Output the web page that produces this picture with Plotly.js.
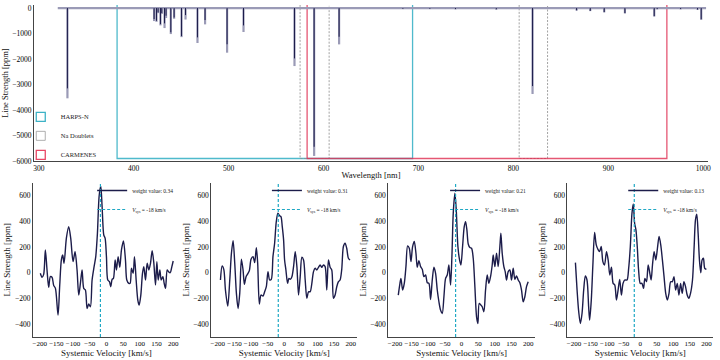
<!DOCTYPE html>
<html>
<head>
<meta charset="utf-8">
<script src="https://cdn.plot.ly/plotly-3.0.1.min.js"></script>
<style>
  html, body { margin: 0; padding: 0; background: white; }
  #chart { width: 720px; height: 360px; }
</style>
</head>
<body>
<div id="chart"></div>
<script>
// Espectro de lineas (panel superior)
const lineWavelength = [330.2, 421.5, 424.0, 425.7, 428.2, 429.6, 432.5, 434.1, 439.1, 442.6, 450.4, 454.6,
  467.2, 475.2, 498.4, 515.7, 569.4, 590.1, 616.4, 683.6, 712, 739, 782, 820.2, 866.6, 881, 895.7,
  917.5, 948.4, 951.5, 976.2, 994, 997.9];
const lineDepthTotal = [3540, 510, 540, 200, 680, 230, 785, 390, 1020, 420, 1140, 450,
  1370, 640, 1750, 940, 2275, 5800, 1425, 40, 40, 50, 60, 3370, 100, 120, 170,
  210, 330, 50, 50, 70, 460];
const lineDepthCore = [3150, 430, 500, 170, 630, 200, 600, 300, 950, 370, 1100, 275,
  1150, 470, 1420, 680, 1975, 5440, 1125, 30, 30, 40, 50, 3060, 90, 110, 160,
  200, 320, 40, 40, 60, 440];
const spectrumRange = [320, 1003];

const harpsRange = [382.5, 693.8];
const carmenesRange = [582.7, 961.7];
const naRanges = [[575.3, 605.9], [806.1, 836.0]];
const boxBottom = -5900;
const boxTop = 400;

// CCF (paneles inferiores)
const weights = ["0.34", "0.31", "0.21", "0.13"];
const vsys = -18;
const ccfRange = [-500, 700];

const vel1 = [-198, -193, -188, -183, -178, -173, -168, -163, -158, -153, -145, -140, -135, -131, -127,
  -120, -113, -107, -100, -94, -88, -83, -78, -73, -68, -63, -58, -53, -48, -43, -37, -32, -27, -22,
  -17, -13, -8, -4, 0, 4, 9, 13, 17, 21, 26, 30, 35, 40, 45, 51, 57, 61, 67, 71, 75, 80, 84, 89, 94,
  98, 103, 108, 112, 117, 122, 127, 132, 137, 142, 147, 151, 155, 160, 164, 169, 173, 177, 182, 186,
  191, 196, 200];
const val1 = [-5, -36, -13, 177, 21, -114, -31, -35, -100, -120, -330, -100, 100, 138, 73,
  268, 358, 268, 86, 164, 21, -174, -83, 21, -122, -135, -278, -244, -265, -57, 47, 125, 306, 592,
  675, 514, 293, 268, 125, -57, -70, -109, -52, -44, 99, 21, 125, 42, 177, 247, 99, -57, -83, -83,
  34, -5, 125, -57, -213, -252, -174, -5, 47, -57, 73, 21, 73, 171, 73, -96, 86, -57, 21, -57, -31,
  -83, -122, 21, 8, 0, 47, 91];

const vel2 = [-192, -187, -182, -177, -170, -164, -159, -154, -149, -144, -139, -134, -129, -124, -120,
  -115, -110, -105, -100, -94, -89, -84, -80, -75, -70, -64, -59, -54, -49, -44, -39, -34, -29, -24,
  -19, -14, -10, -6, -2, 1, 5, 10, 14, 18, 23, 28, 33, 38, 43, 48, 53, 58, 63, 68, 73, 78, 83, 88,
  93, 98, 103, 108, 113, 118, 123, 128, 133, 138, 143, 148, 153, 158, 163, 168, 173, 178, 183, 188,
  193, 198];
const val2 = [-57, 52, 26, -135, -260, -57, 151, 249, 73, -161, -278, -161, 104, 21, -91,
  -31, -10, 16, 104, 125, 78, 195, 73, -244, -174, -182, -148, -109, 8, -57, -52, 125, 229, 397,
  462, 442, 436, 358, 255, 99, 21, -83, -44, -52, -31, 47, 164, 47, -174, -31, 120, 99, -57, -200,
  -148, -148, -83, 8, 34, 21, 42, 60, 42, 60, 47, -135, 99, 42, 21, -200, -174, -109, -70, -57, 26,
  203, 229, 190, 112, 99];

const vel3 = [-190, -185, -182, -177, -172, -167, -162, -157, -152, -147, -142, -137, -133, -128, -123,
  -118, -113, -108, -103, -98, -93, -88, -83, -78, -73, -68, -63, -58, -53, -48, -43, -38, -33, -29,
  -25, -20, -16, -11, -6, -2, 3, 8, 12, 16, 20, 25, 30, 35, 40, 45, 49, 53, 58, 62, 67, 72, 77, 82,
  87, 92, 95, 100, 105, 110, 115, 118, 122, 127, 131, 135, 140, 145, 150, 155, 160, 165, 170, 175,
  180, 185, 190, 195, 200];
const val3 = [-174, -83, -44, -135, -83, 47, 208, 190, 86, 203, 242, 151, 42, 94, 47,
  26, -31, -18, -78, -83, -208, -57, 42, -5, -135, -226, -291, -317, -187, -44, -18, 60, -96, 125,
  462, 618, 488, 203, 99, 60, 203, 358, 397, 332, 223, 195, 190, 112, -109, -343, -395, -239, -252,
  -265, -304, -135, -18, -83, -31, 60, 138, 47, 151, 47, 203, 306, 151, 47, 8, -57, 8, 21, -57, 34,
  -52, -26, -57, -78, -135, -226, -187, -109, -70];

const vel4 = [-196, -191, -186, -181, -176, -171, -166, -161, -156, -153, -148, -143, -138, -133, -128,
  -123, -118, -113, -108, -102, -97, -92, -87, -82, -77, -72, -67, -62, -57, -52, -47, -40, -35, -30,
  -25, -21, -17, -13, -9, -5, 0, 5, 10, 14, 19, 24, 29, 33, 37, 42, 47, 52, 57, 62, 67, 72, 77, 82,
  87, 92, 97, 102, 107, 112, 117, 122, 127, 132, 137, 142, 147, 152, 158, 163, 167, 171, 175, 179,
  183, 187, 191, 195, 200];
const val4 = [78, -135, -304, -395, -317, -135, -26, -57, -265, -369, -213, 73, 312, 216, 182,
  164, 203, 86, 60, 164, 99, -18, 42, -83, -96, -213, -135, -52, -174, -83, -57, -57, 34, 203, 462,
  535, 384, 332, 203, 21, -83, -83, -122, -44, -70, 60, -5, -57, 60, 164, 99, 190, 281, 216, 99,
  -31, -161, -213, -161, -70, -70, -31, -135, -83, -174, -83, -161, -70, -109, -174, -200, -161, -57,
  203, 410, 455, 306, 99, 0, 99, 112, 34, 26];

const ccfVel = [vel1, vel2, vel3, vel4];
const ccfVal = [val1, val2, val3, val4];

const NAVY = "#1c1c4a";
const CYAN = "#1fa8c4";
const FONT = "Liberation Serif, DejaVu Serif, serif";

function spectrumSegments(depths, withBaseline) {
  const x = withBaseline ? [spectrumRange[0], spectrumRange[1], null] : [];
  const y = withBaseline ? [0, 0, null] : [];
  lineWavelength.forEach((wl, i) => {
    x.push(wl, wl, null);
    y.push(0, -depths[i], null);
  });
  return { x, y };
}

function boxPath(ranges) {
  const x = [];
  const y = [];
  ranges.forEach(([a, b]) => {
    x.push(a, a, b, b, null);
    y.push(boxTop, boxBottom, boxBottom, boxTop, null);
  });
  return { x, y };
}

const grayLines = spectrumSegments(lineDepthTotal, true);
const navyLines = spectrumSegments(lineDepthCore, false);
const harpsBox = boxPath([harpsRange]);
const naBox = boxPath(naRanges);
const carmBox = boxPath([carmenesRange]);

const data = [
  { x: harpsBox.x, y: harpsBox.y, mode: "lines", line: { color: "rgba(60,178,198,0.9)", width: 1.3 },
    showlegend: false, hoverinfo: "skip" },
  { x: naBox.x, y: naBox.y, mode: "lines", line: { color: "#8c8c8c", width: 0.8, dash: "2px,1.5px" },
    showlegend: false, hoverinfo: "skip" },
  { x: carmBox.x, y: carmBox.y, mode: "lines", line: { color: "rgba(222,45,80,0.8)", width: 1.3 },
    showlegend: false, hoverinfo: "skip" },
  { x: grayLines.x, y: grayLines.y, mode: "lines", line: { color: "#9a9ab6", width: 2.2 },
    showlegend: false, hoverinfo: "skip" },
  { x: navyLines.x, y: navyLines.y, mode: "lines", line: { color: NAVY, width: 1 },
    showlegend: false, hoverinfo: "skip" },
  // entradas de leyenda
  { x: [null], y: [null], mode: "markers", name: "HARPS-N",
    marker: { symbol: "square-open", size: 9, color: "rgba(60,178,198,1)", line: { width: 1.3 } } },
  { x: [null], y: [null], mode: "markers", name: "Na Doublets",
    marker: { symbol: "square-open", size: 9, color: "#9a9a9a", line: { width: 0.8 } } },
  { x: [null], y: [null], mode: "markers", name: "CARMENES",
    marker: { symbol: "square-open", size: 9, color: "rgba(232,70,100,1)", line: { width: 1.3 } } },
];

const axisBase = {
  showline: true, linecolor: "#444", linewidth: 1, showgrid: false, zeroline: false,
  ticks: "", ticklen: 0, tickangle: 0, tickfont: { family: FONT, size: 7.5, color: "black" },
};

const layout = {
  width: 720, height: 360,
  margin: { l: 33, r: 7, t: 5, b: 23 },
  paper_bgcolor: "white", plot_bgcolor: "white",
  font: { family: FONT, size: 8, color: "#111" },
  xaxis: Object.assign({}, axisBase, {
    domain: [0.0015, 0.9926], range: [295, 1005], anchor: "y", dtick: 100, tick0: 0,
    title: { text: "Wavelength [nm]", font: { size: 8.5, family: FONT }, standoff: 0 },
  }),
  yaxis: Object.assign({}, axisBase, {
    domain: [0.53, 1], range: [-6000, 120], anchor: "x", dtick: 1000, tick0: 0,
    title: { text: "Line Strength [ppm]", font: { size: 8.5, family: FONT }, standoff: 4 },
  }),
  legend: {
    x: -0.018, xanchor: "left", y: 0.505, yanchor: "bottom",
    bgcolor: "rgba(0,0,0,0)", font: { family: FONT, size: 6.5, color: "#222" },
    itemwidth: 30, tracegroupgap: 0,
  },
};

const panelDomains = [[0, 0.216], [0.262, 0.477], [0.5225, 0.738], [0.786, 1]];
const legendX = [0.087, 0.344, 0.606, 0.868];

weights.forEach((w, i) => {
  const n = i + 2;
  const legendName = "legend" + n;
  data.push({
    x: ccfVel[i], y: ccfVal[i], xaxis: "x" + n, yaxis: "y" + n,
    mode: "lines", line: { color: NAVY, width: 1.4, shape: "spline", smoothing: 0.8 },
    name: "weight value: " + w, legend: legendName,
  });
  data.push({
    x: [vsys, vsys], y: ccfRange, xaxis: "x" + n, yaxis: "y" + n,
    mode: "lines", line: { color: CYAN, width: 1.2, dash: "3px,2px" },
    name: "<i>V</i><sub>sys</sub> = " + vsys + " km/s", legend: legendName,
  });
  layout["xaxis" + n] = Object.assign({}, axisBase, {
    domain: panelDomains[i], range: [-220, 220], anchor: "y" + n, dtick: 50, tick0: 0,
    tickfont: { family: FONT, size: 7, color: "black" },
    title: { text: "Systemic Velocity [km/s]", font: { size: 9, family: FONT }, standoff: 1 },
  });
  layout["yaxis" + n] = Object.assign({}, axisBase, {
    domain: [0, 0.465], range: ccfRange, anchor: "x" + n, dtick: 200, tick0: 0,
    title: { text: "Line Strength [ppm]", font: { size: 9, family: FONT }, standoff: 2 },
  });
  layout[legendName] = {
    x: legendX[i], xanchor: "left", y: 0.485, yanchor: "top",
    bgcolor: "rgba(0,0,0,0)", font: { family: FONT, size: 5.5, color: "#222" },
    itemwidth: 30, tracegroupgap: 0,
  };
});

Plotly.newPlot("chart", data, layout, { displayModeBar: false, staticPlot: true });
</script>
</body>
</html>
